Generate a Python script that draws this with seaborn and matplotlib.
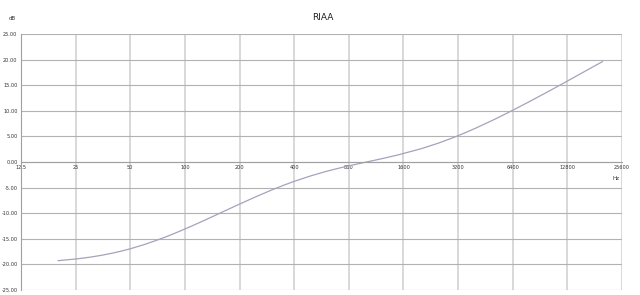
import matplotlib
matplotlib.use("Agg")
import matplotlib.pyplot as plt
import seaborn as sns
import pandas as pd

# Data (RIAA curve)
freq_hz = [20, 25, 30, 35, 40, 45, 50, 60, 70, 80, 90, 100, 120, 150, 200,
           250, 300, 350, 400, 500, 600, 700, 800, 1000, 1200, 1500, 2000,
           2500, 3000, 3500, 4000, 5000, 6000, 7000, 8000, 10000, 12000,
           15000, 20000]
gain_db = [-19.27, -18.95, -18.59, -18.20, -17.79, -17.37, -16.95, -16.10,
           -15.28, -14.51, -13.77, -13.09, -11.85, -10.27, -8.22, -6.68,
           -5.48, -4.54, -3.78, -2.65, -1.84, -1.23, -0.75, 0.00, 0.60, 1.40,
           2.59, 3.70, 4.74, 5.71, 6.61, 8.21, 9.60, 10.82, 11.89, 13.73,
           15.26, 17.16, 19.62]
x_ticks = [12.5, 25, 50, 100, 200, 400, 800, 1600, 3200, 6400, 12800, 25600]
x_tick_labels = ["12.5", "25", "50", "100", "200", "400", "800", "1600",
                 "3200", "6400", "12800", "25600"]
y_ticks = [-25, -20, -15, -10, -5, 0, 5, 10, 15, 20, 25]
y_tick_labels = ["-25.00", "-20.00", "-15.00", "-10.00", "-5.00", "0.00",
                 "5.00", "10.00", "15.00", "20.00", "25.00"]

df = pd.DataFrame({"Hz": freq_hz, "dB": gain_db})

sns.set_theme(style="white")
plt.rcParams['font.family'] = ['DejaVu Sans']

fig = plt.figure(figsize=(6.4, 2.95), dpi=100)
ax = fig.add_axes([21/640, 1 - 290/295, (622 - 21)/640, (290 - 34)/295])

sns.lineplot(data=df, x="Hz", y="dB", ax=ax, color="#a3a3bd", linewidth=0.9)

ax.set_xscale("log", base=2)
ax.set_xlim(12.5, 25600)
ax.set_ylim(-25, 25)
ax.set_xticks(x_ticks)
ax.set_xticklabels(x_tick_labels)
ax.minorticks_off()
ax.set_yticks(y_ticks)
ax.set_yticklabels(y_tick_labels)

ax.xaxis.grid(True, color="#d2d2d2", linewidth=1.2)
ax.yaxis.grid(True, color="#b2b2b2", linewidth=0.8)
ax.set_axisbelow(True)

for s in ["top", "right"]:
    ax.spines[s].set_visible(False)
ax.spines["left"].set_color("#a0a0a0")
ax.spines["left"].set_linewidth(0.8)
ax.spines["bottom"].set_position(("data", 0))
ax.spines["bottom"].set_color("#a0a0a0")
ax.spines["bottom"].set_linewidth(0.8)

ax.tick_params(axis="both", length=0, labelsize=3.6, colors="#333333")
ax.tick_params(axis="x", pad=2.5)
ax.tick_params(axis="y", pad=2.5)

ax.set_xlabel("")
ax.set_ylabel("")

fig.text(323/640, 1 - 18/295, "RIAA", ha="center", va="center", fontsize=6.5, color="#222222")
fig.text(12/640, 1 - 19/295, "dB", ha="center", va="center", fontsize=4, color="#333333")
fig.text(616/640, 1 - 178/295, "Hz", ha="center", va="center", fontsize=4, color="#333333")

fig.savefig("out.png", dpi=100, facecolor="white")
